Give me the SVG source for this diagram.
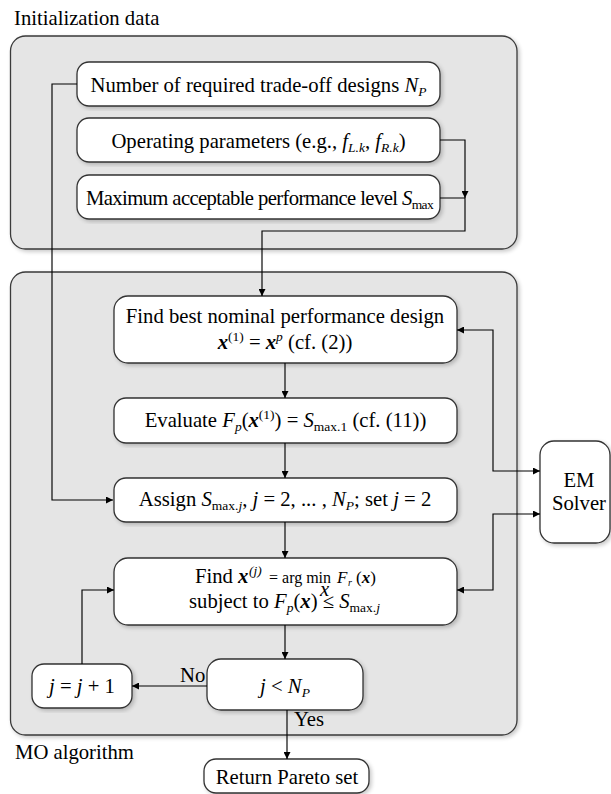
<svg xmlns="http://www.w3.org/2000/svg" width="611" height="794" viewBox="0 0 611 794">
<defs>
<marker id="arr" viewBox="0 0 10 10" refX="10" refY="5" markerWidth="8" markerHeight="7" markerUnits="userSpaceOnUse" orient="auto-start-reverse">
<path d="M0,0 L10,5 L0,10 z" fill="#000"/>
</marker>
<filter id="sh" x="-5%" y="-5%" width="115%" height="115%">
<feGaussianBlur in="SourceAlpha" stdDeviation="2"/>
<feOffset dx="2" dy="2" result="b"/>
<feComponentTransfer><feFuncA type="linear" slope="0.22"/></feComponentTransfer>
<feMerge><feMergeNode/><feMergeNode in="SourceGraphic"/></feMerge>
</filter>
</defs>
<style>
text{font-family:'Liberation Serif','Tinos','Times New Roman','Nimbus Roman','FreeSerif','DejaVu Serif',serif;font-size:20.7px;fill:#000}
.c{text-anchor:middle}
.i{font-style:italic}
.bi{font-style:italic;font-weight:bold}
.s{font-size:13.5px}
.tight{letter-spacing:-0.62px}
.cont{fill:#e5e5e5;stroke:#3a3a3a;stroke-width:1.3}
.box{fill:#fff;stroke:#333;stroke-width:1.3}
.ln{fill:none;stroke:#000;stroke-width:1.15}
</style>

<text x="14" y="25">Initialization data</text>
<text x="15" y="759">MO algorithm</text>

<g id="init-container"><rect class="cont" x="10.5" y="36" width="506.5" height="213" rx="15" filter="url(#sh)"/></g>
<g id="mo-container"><rect class="cont" x="10.5" y="272" width="506.5" height="463" rx="15" filter="url(#sh)"/></g>

<g id="np">
<rect class="box" x="77" y="62" width="363" height="44" rx="12" filter="url(#sh)"/>
<text class="c" x="258.5" y="92">Number of required trade-off designs <tspan class="i">N</tspan><tspan class="i s" dy="4">P</tspan></text>
</g>
<g id="oper">
<rect class="box" x="77" y="118" width="363" height="44" rx="12" filter="url(#sh)"/>
<text class="c" x="258.5" y="148">Operating parameters (e.g., <tspan class="i">f</tspan><tspan class="i s" dy="4">L.k</tspan><tspan dy="-4">, </tspan><tspan class="i">f</tspan><tspan class="i s" dy="4">R.k</tspan><tspan dy="-4">)</tspan></text>
</g>
<g id="smax">
<rect class="box" x="77" y="175" width="363" height="44" rx="12" filter="url(#sh)"/>
<text class="c tight" x="259.5" y="205">Maximum acceptable performance level <tspan class="i">S</tspan><tspan class="s" dy="4">max</tspan></text>
</g>

<g id="findbest">
<rect class="box" x="114" y="296" width="343" height="67" rx="14" filter="url(#sh)"/>
<text class="c" x="285" y="323">Find best nominal performance design</text>
<text class="c" x="285" y="349"><tspan class="bi">x</tspan><tspan class="s" dy="-8">(1)</tspan><tspan dy="8"> = </tspan><tspan class="bi">x</tspan><tspan class="i s" dy="-8">p</tspan><tspan dy="8"> (cf. (2))</tspan></text>
</g>
<g id="evaluate">
<rect class="box" x="114" y="398" width="343" height="45" rx="12" filter="url(#sh)"/>
<text class="c" x="285.5" y="427">Evaluate <tspan class="i">F</tspan><tspan class="i s" dy="4">p</tspan><tspan dy="-4">(</tspan><tspan class="bi">x</tspan><tspan class="s" dy="-8">(1)</tspan><tspan dy="8">) = </tspan><tspan class="i">S</tspan><tspan class="s" dy="4">max.1</tspan><tspan dy="-4"> (cf. (11))</tspan></text>
</g>
<g id="assign">
<rect class="box" x="114" y="478" width="343" height="44" rx="12" filter="url(#sh)"/>
<text class="c" x="285" y="506">Assign <tspan class="i">S</tspan><tspan class="s" dy="4">max.</tspan><tspan class="i s">j</tspan><tspan dy="-4">, </tspan><tspan class="i">j</tspan> = 2, ... , <tspan class="i">N</tspan><tspan class="i s" dy="4">P</tspan><tspan dy="-4">; set </tspan><tspan class="i">j</tspan> = 2</text>
</g>
<g id="findx">
<rect class="box" x="114" y="558" width="343" height="67" rx="14" filter="url(#sh)"/>
<text x="195" y="583">Find<tspan class="bi" x="238">x</tspan><tspan class="i s" x="249" dy="-8">(j)</tspan><tspan x="269" dy="8" font-size="16">= arg min</tspan><tspan class="i" x="337" font-size="17">F</tspan><tspan class="i" x="348" dy="3" font-size="10">r</tspan><tspan x="356" dy="-3" font-size="17">(</tspan><tspan class="bi" font-size="17">x</tspan><tspan font-size="17">)</tspan></text>
<text class="i" x="320" y="596" font-size="9">x</text>
<text x="189" y="608">subject to <tspan class="i">F</tspan><tspan class="i s" dy="4">p</tspan><tspan dy="-4">(</tspan><tspan class="bi">x</tspan>) ≤ <tspan class="i">S</tspan><tspan class="s" dy="4">max.</tspan><tspan class="i s">j</tspan></text>
</g>
<g id="decision">
<rect class="box" x="207" y="659" width="156" height="51" rx="14" filter="url(#sh)"/>
<text class="c" x="285" y="693"><tspan class="i">j</tspan> &lt; <tspan class="i">N</tspan><tspan class="i s" dy="4">P</tspan></text>
</g>
<g id="increment">
<rect class="box" x="32" y="664" width="100" height="44" rx="12" filter="url(#sh)"/>
<text class="c" x="82" y="693"><tspan class="i">j</tspan> = <tspan class="i">j</tspan> + 1</text>
</g>
<g id="pareto">
<rect class="box" x="204" y="759" width="165" height="34" rx="12" filter="url(#sh)"/>
<text class="c" x="287" y="784">Return Pareto set</text>
</g>
<g id="em">
<rect class="box" x="540" y="441" width="70" height="102" rx="14" filter="url(#sh)"/>
<text class="c" x="579" y="487">EM</text>
<text class="c" x="579" y="510">Solver</text>
</g>

<g id="connectors">
<polyline class="ln" points="77,84 52,84 52,500 113,500" marker-end="url(#arr)"/>
<polyline class="ln" points="440,140 465,140 465,198" marker-end="url(#arr)"/>
<polyline class="ln" points="440,198 465,198 465,231 262,231 262,296" marker-end="url(#arr)"/>
<line class="ln" x1="285" y1="363" x2="285" y2="398" marker-end="url(#arr)"/>
<line class="ln" x1="285" y1="443" x2="285" y2="478" marker-end="url(#arr)"/>
<line class="ln" x1="285" y1="522" x2="285" y2="558" marker-end="url(#arr)"/>
<line class="ln" x1="285" y1="625" x2="285" y2="659" marker-end="url(#arr)"/>
<line class="ln" x1="207" y1="686" x2="132" y2="686" marker-end="url(#arr)"/>
<polyline class="ln" points="82,664 82,590 114,590" marker-end="url(#arr)"/>
<line class="ln" x1="287" y1="710" x2="287" y2="759" marker-end="url(#arr)"/>
<polyline class="ln" points="457,330 493,330 493,471 540,471" marker-start="url(#arr)" marker-end="url(#arr)"/>
<polyline class="ln" points="457,590 493,590 493,514 540,514" marker-start="url(#arr)" marker-end="url(#arr)"/>
<text x="180" y="682">No</text>
<text x="294" y="726">Yes</text>
</g>
</svg>
